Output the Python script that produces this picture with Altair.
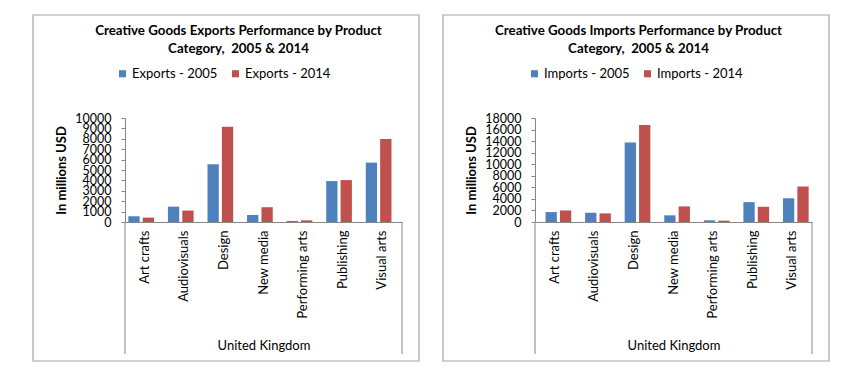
import altair as alt
import pandas as pd

categories = ["Art crafts", "Audiovisuals", "Design", "New media",
              "Performing arts", "Publishing", "Visual arts"]
exports_2005 = [550, 1480, 5550, 680, 100, 3935, 5710]
exports_2014 = [420, 1100, 9160, 1420, 160, 4030, 7970]
imports_2005 = [1720, 1600, 13760, 1150, 290, 3440, 4130]
imports_2014 = [2000, 1490, 16800, 2700, 230, 2640, 6140]
export_ticks = [0, 1000, 2000, 3000, 4000, 5000, 6000, 7000, 8000, 9000, 10000]
import_ticks = [0, 2000, 4000, 6000, 8000, 10000, 12000, 14000, 16000, 18000]
colors = ["#4F81BD", "#C0504D"]

FONT = "Lato"
W, H = 277, 104
GREY = "#868686"


def panel(kind, v05, v14, ticks, title_lines, dx, legend_x):
    s05 = f"{kind} - 2005"
    s14 = f"{kind} - 2014"
    df = pd.DataFrame({
        "Category": categories * 2,
        "Series": [s05] * len(categories) + [s14] * len(categories),
        "Value": v05 + v14,
    })
    bars = alt.Chart(df).mark_bar(width=11.3).encode(
        x=alt.X("Category:N", sort=categories,
                scale=alt.Scale(paddingInner=0, paddingOuter=0),
                axis=alt.Axis(title="United Kingdom", labelAngle=-90, labelAlign="right",
                              labelBaseline="middle", labelPadding=8, ticks=False,
                              domainColor=GREY, labelFontSize=13, labelFont=FONT,
                              labelColor="black", titleFont=FONT, titleFontSize=13,
                              titleFontWeight="normal", titleColor="black",
                              titleY=123, titleBaseline="middle")),
        xOffset=alt.XOffset("Series:N", sort=[s05, s14],
                            scale=alt.Scale(paddingInner=0, paddingOuter=0.75)),
        y=alt.Y("Value:Q", scale=alt.Scale(domain=[0, ticks[-1]], nice=False),
                axis=alt.Axis(title="In millions USD", values=ticks, grid=False, format="d",
                              domainColor=GREY, tickColor=GREY, tickSize=4,
                              labelPadding=10, labelFontSize=12.5, labelFont=FONT,
                              labelColor="black", titleFont=FONT, titleFontSize=13,
                              titleFontWeight="bold", titleColor="black",
                              titlePadding=6, labelOverlap=False)),
        color=alt.Color("Series:N",
                        scale=alt.Scale(domain=[s05, s14], range=colors),
                        legend=alt.Legend(title=None, orient="none", direction="horizontal",
                                          legendX=legend_x, legendY=-51, symbolType="square",
                                          symbolSize=50, symbolStrokeWidth=0,
                                          labelFont=FONT, labelFontSize=13,
                                          labelColor="black", columnPadding=11,
                                          symbolOffset=0, labelOffset=3)),
    )
    deco = alt.Data(values=[{"k": 1}])
    border = alt.Chart(deco).mark_rect(fill="transparent", stroke="#A6A6A6", strokeWidth=1.2).encode(
        x=alt.value(-92), x2=alt.value(294), y=alt.value(-103), y2=alt.value(243))
    rule_l = alt.Chart(deco).mark_rule(color=GREY).encode(
        x=alt.value(0), y=alt.value(H), y2=alt.value(H + 132))
    rule_r = alt.Chart(deco).mark_rule(color=GREY).encode(
        x=alt.value(W), y=alt.value(H), y2=alt.value(H + 132))
    return alt.layer(border, bars, rule_l, rule_r).properties(
        width=W, height=H,
        title=alt.TitleParams(text=title_lines, font=FONT, fontSize=13.3, fontWeight="bold",
                              color="black", anchor="middle", dx=dx, offset=-41,
                              lineHeight=18),
    )


left = panel("Exports", exports_2005, exports_2014, export_ticks,
             ["Creative Goods Exports Performance by Product", "Category,\u00a0 2005 & 2014"],
             -25, -9)
right = panel("Imports", imports_2005, imports_2014, import_ticks,
              ["Creative Goods Imports Performance by Product", "Category,\u00a0 2005 & 2014"],
              -35, -7)

chart = alt.hconcat(left, right, spacing=22).resolve_scale(
    color="independent", x="independent", y="independent"
).properties(
    padding={"left": 24, "top": 6, "right": 0, "bottom": 0},
    background="white",
).configure_view(stroke=None)

chart.save("out.html", embed_options={"renderer": "svg", "actions": False})
